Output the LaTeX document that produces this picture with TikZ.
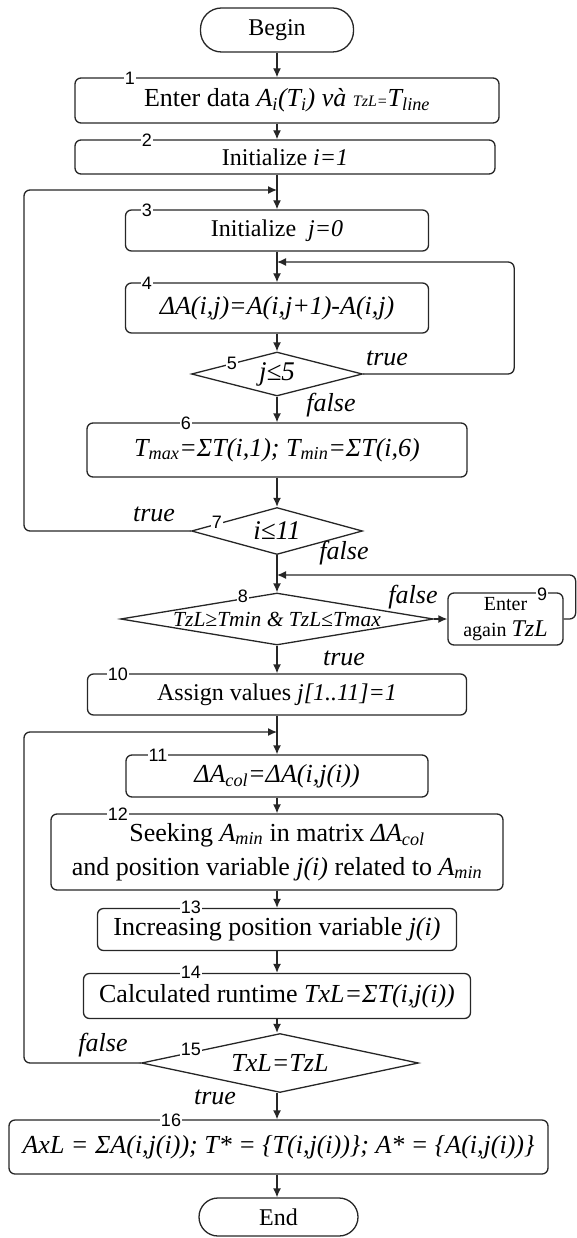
\documentclass[tikz,border=0pt]{standalone}
\usepackage{fontspec}
\setmainfont{Liberation Serif}
\newfontfamily\numfont{Liberation Sans}
\usetikzlibrary{shapes.geometric,arrows.meta}
\colorlet{ln}{black!85}
\begin{document}
\begin{tikzpicture}[x=1pt,y=-1pt,
  proc/.style={draw=ln, line width=1.3pt, rounded corners=6pt, inner sep=0pt, align=center, font=\fontsize{26}{34}\selectfont},
  term/.style={draw=ln, line width=1.3pt, rounded corners=19pt, inner sep=0pt, font=\fontsize{24}{28}\selectfont},
  dia/.style={draw=ln, line width=1.3pt, diamond, inner sep=0pt},
  num/.style={fill=white, inner sep=0.6pt, font=\numfont\fontsize{18}{19}\selectfont},
  lab/.style={font=\itshape\fontsize{26}{28}\selectfont},
  arr/.style={draw=ln, line width=1.3pt, -{Latex[length=9pt,width=8pt]}}]
\useasboundingbox (0,0) rectangle (577,1238);

% nodes
\node[term, minimum width=153pt, minimum height=44pt, rounded corners=21pt] (begin) at (277,30) {Begin};
\node[proc, minimum width=424pt, minimum height=45pt] (b1) at (287,100.5) {Enter data \textit{A\textsubscript{i}(T\textsubscript{i}) và} {\itshape\fontsize{16}{18}\selectfont TzL=}\textit{T\textsubscript{line}}};
\node[proc, minimum width=420pt, minimum height=34pt, font=\fontsize{24}{28}\selectfont] (b2) at (285,157) {Initialize \textit{i=1}};
\node[proc, minimum width=303pt, minimum height=41pt, font=\fontsize{24}{28}\selectfont] (b3) at (277,230.5) {Initialize \ \textit{j=0}};
\node[proc, minimum width=303pt, minimum height=50pt] (b4) at (277,308) {\itshape ΔA(i,j)=A(i,j+1)-A(i,j)};
\node[dia, minimum width=171pt, minimum height=44pt, label={[font=\itshape\fontsize{27}{28}\selectfont]center:{j≤5}}] (d5) at (277,374) {};
\node[proc, minimum width=380pt, minimum height=54pt] (b6) at (277,450) {\itshape T\textsubscript{max}=ΣT(i,1); T\textsubscript{min}=ΣT(i,6)};
\node[dia, minimum width=171pt, minimum height=47pt, label={[font=\itshape\fontsize{27}{28}\selectfont]center:{i≤11}}] (d7) at (277,531) {};
\node[dia, minimum width=313pt, minimum height=52pt, label={[font=\itshape\fontsize{21.5}{23}\selectfont]center:{TzL≥Tmin \& TzL≤Tmax}}] (d8) at (277,619) {};
\node[proc, minimum width=115pt, minimum height=52pt, font=\fontsize{20}{26}\selectfont] (b9) at (505.5,619) {Enter\\again {\itshape\fontsize{24}{24}\selectfont TzL}};
\node[proc, minimum width=379pt, minimum height=41pt, font=\fontsize{24}{28}\selectfont] (b10) at (277,694.5) {Assign values \textit{j[1..11]=1}};
\node[proc, minimum width=302pt, minimum height=42pt] (b11) at (277,776) {\itshape ΔA\textsubscript{col}=ΔA(i,j(i))};
\node[proc, minimum width=452pt, minimum height=76pt] (b12) at (277,852) {Seeking \textit{A\textsubscript{min}} in matrix \textit{ΔA\textsubscript{col}}\\and position variable \textit{j(i)} related to \textit{A\textsubscript{min}}};
\node[proc, minimum width=359pt, minimum height=42pt] (b13) at (277,929.5) {Increasing position variable \textit{j(i)}};
\node[proc, minimum width=387pt, minimum height=45pt] (b14) at (277,996) {Calculated runtime \textit{TxL=ΣT(i,j(i))}};
\node[dia, minimum width=277pt, minimum height=59pt, label={[font=\itshape\fontsize{26}{28}\selectfont]center:{TxL=TzL}}] (d15) at (280,1063) {};
\node[proc, minimum width=539pt, minimum height=54pt] (b16) at (278.5,1147) {\itshape AxL = ΣA(i,j(i)); T* = \{T(i,j(i))\}; A* = \{A(i,j(i))\}};
\node[term, minimum width=159pt, minimum height=38pt] (end) at (278.5,1217) {End};

% junction points on the trunk
\coordinate (m2) at (277,190);
\coordinate (m4) at (277,262);
\coordinate (m8) at (277,575);
\coordinate (m11) at (277,732);

% main flow
\draw[arr] (begin.south) -- (begin.south |- b1.north);
\draw[arr] (begin.south |- b1.south) -- (begin.south |- b2.north);
\draw[arr] (begin.south |- b2.south) -- (b3.north);
\draw[arr] (b3) -- (b4);
\draw[arr] (b4) -- (d5);
\draw[arr] (d5) -- (b6);
\draw[arr] (b6) -- (d7);
\draw[arr] (d7) -- (d8);
\draw[arr] (d8) -- (b10);
\draw[arr] (b10) -- (b11);
\draw[arr] (b11) -- (b12);
\draw[arr] (b12) -- (b13);
\draw[arr] (b13) -- (b14);
\draw[arr] (b14) -- (b14 |- d15.north);
\draw[arr] (b14 |- d15.south) -- (b14 |- b16.north);
\draw[arr] (b14 |- b16.south) -- (b14 |- end.north);
\draw[arr] (d8) -- (b9);

% loops
\draw[arr, rounded corners=6pt] (d5.east) -- ++(151,0) |- (m4);
\draw[arr, rounded corners=6pt] (d7.west) -| (24,190) -- (m2);
\draw[arr, rounded corners=6pt] (b9.east) -- ++(12,0) |- (m8);
\draw[arr, rounded corners=6pt] (d15.west) -| (24,732) -- (m11);

% step numbers
\node[num] (n1) at (130,78) {1};
\node[num] (n2) at (147,140) {2};
\node[num] (n3) at (147,210) {3};
\node[num] (n4) at (147,283) {4};
\node[num] (n5) at (232,363) {5};
\node[num] (n6) at (186,423) {6};
\node[num] (n7) at (217,522) {7};
\node[num] (n8) at (243,596) {8};
\node[num] (n9) at (542,594) {9};
\node[num] (n10) at (118,674) {10};
\node[num] (n11) at (158,755) {11};
\node[num] (n12) at (118,814) {12};
\node[num] (n13) at (191,907) {13};
\node[num] (n14) at (191,972) {14};
\node[num] (n15) at (191,1049) {15};
\node[num] (n16) at (171,1120) {16};

% branch labels
\node[lab] (t5) at (387,358) {true};
\node[lab] (f5) at (331,405) {false};
\node[lab] (t7) at (154,514) {true};
\node[lab] (f7) at (344,553) {false};
\node[lab] (f8) at (413,597) {false};
\node[lab] (t8) at (344,658) {true};
\node[lab] (f15) at (103,1045) {false};
\node[lab] (t15) at (215,1097) {true};
\end{tikzpicture}
\end{document}
